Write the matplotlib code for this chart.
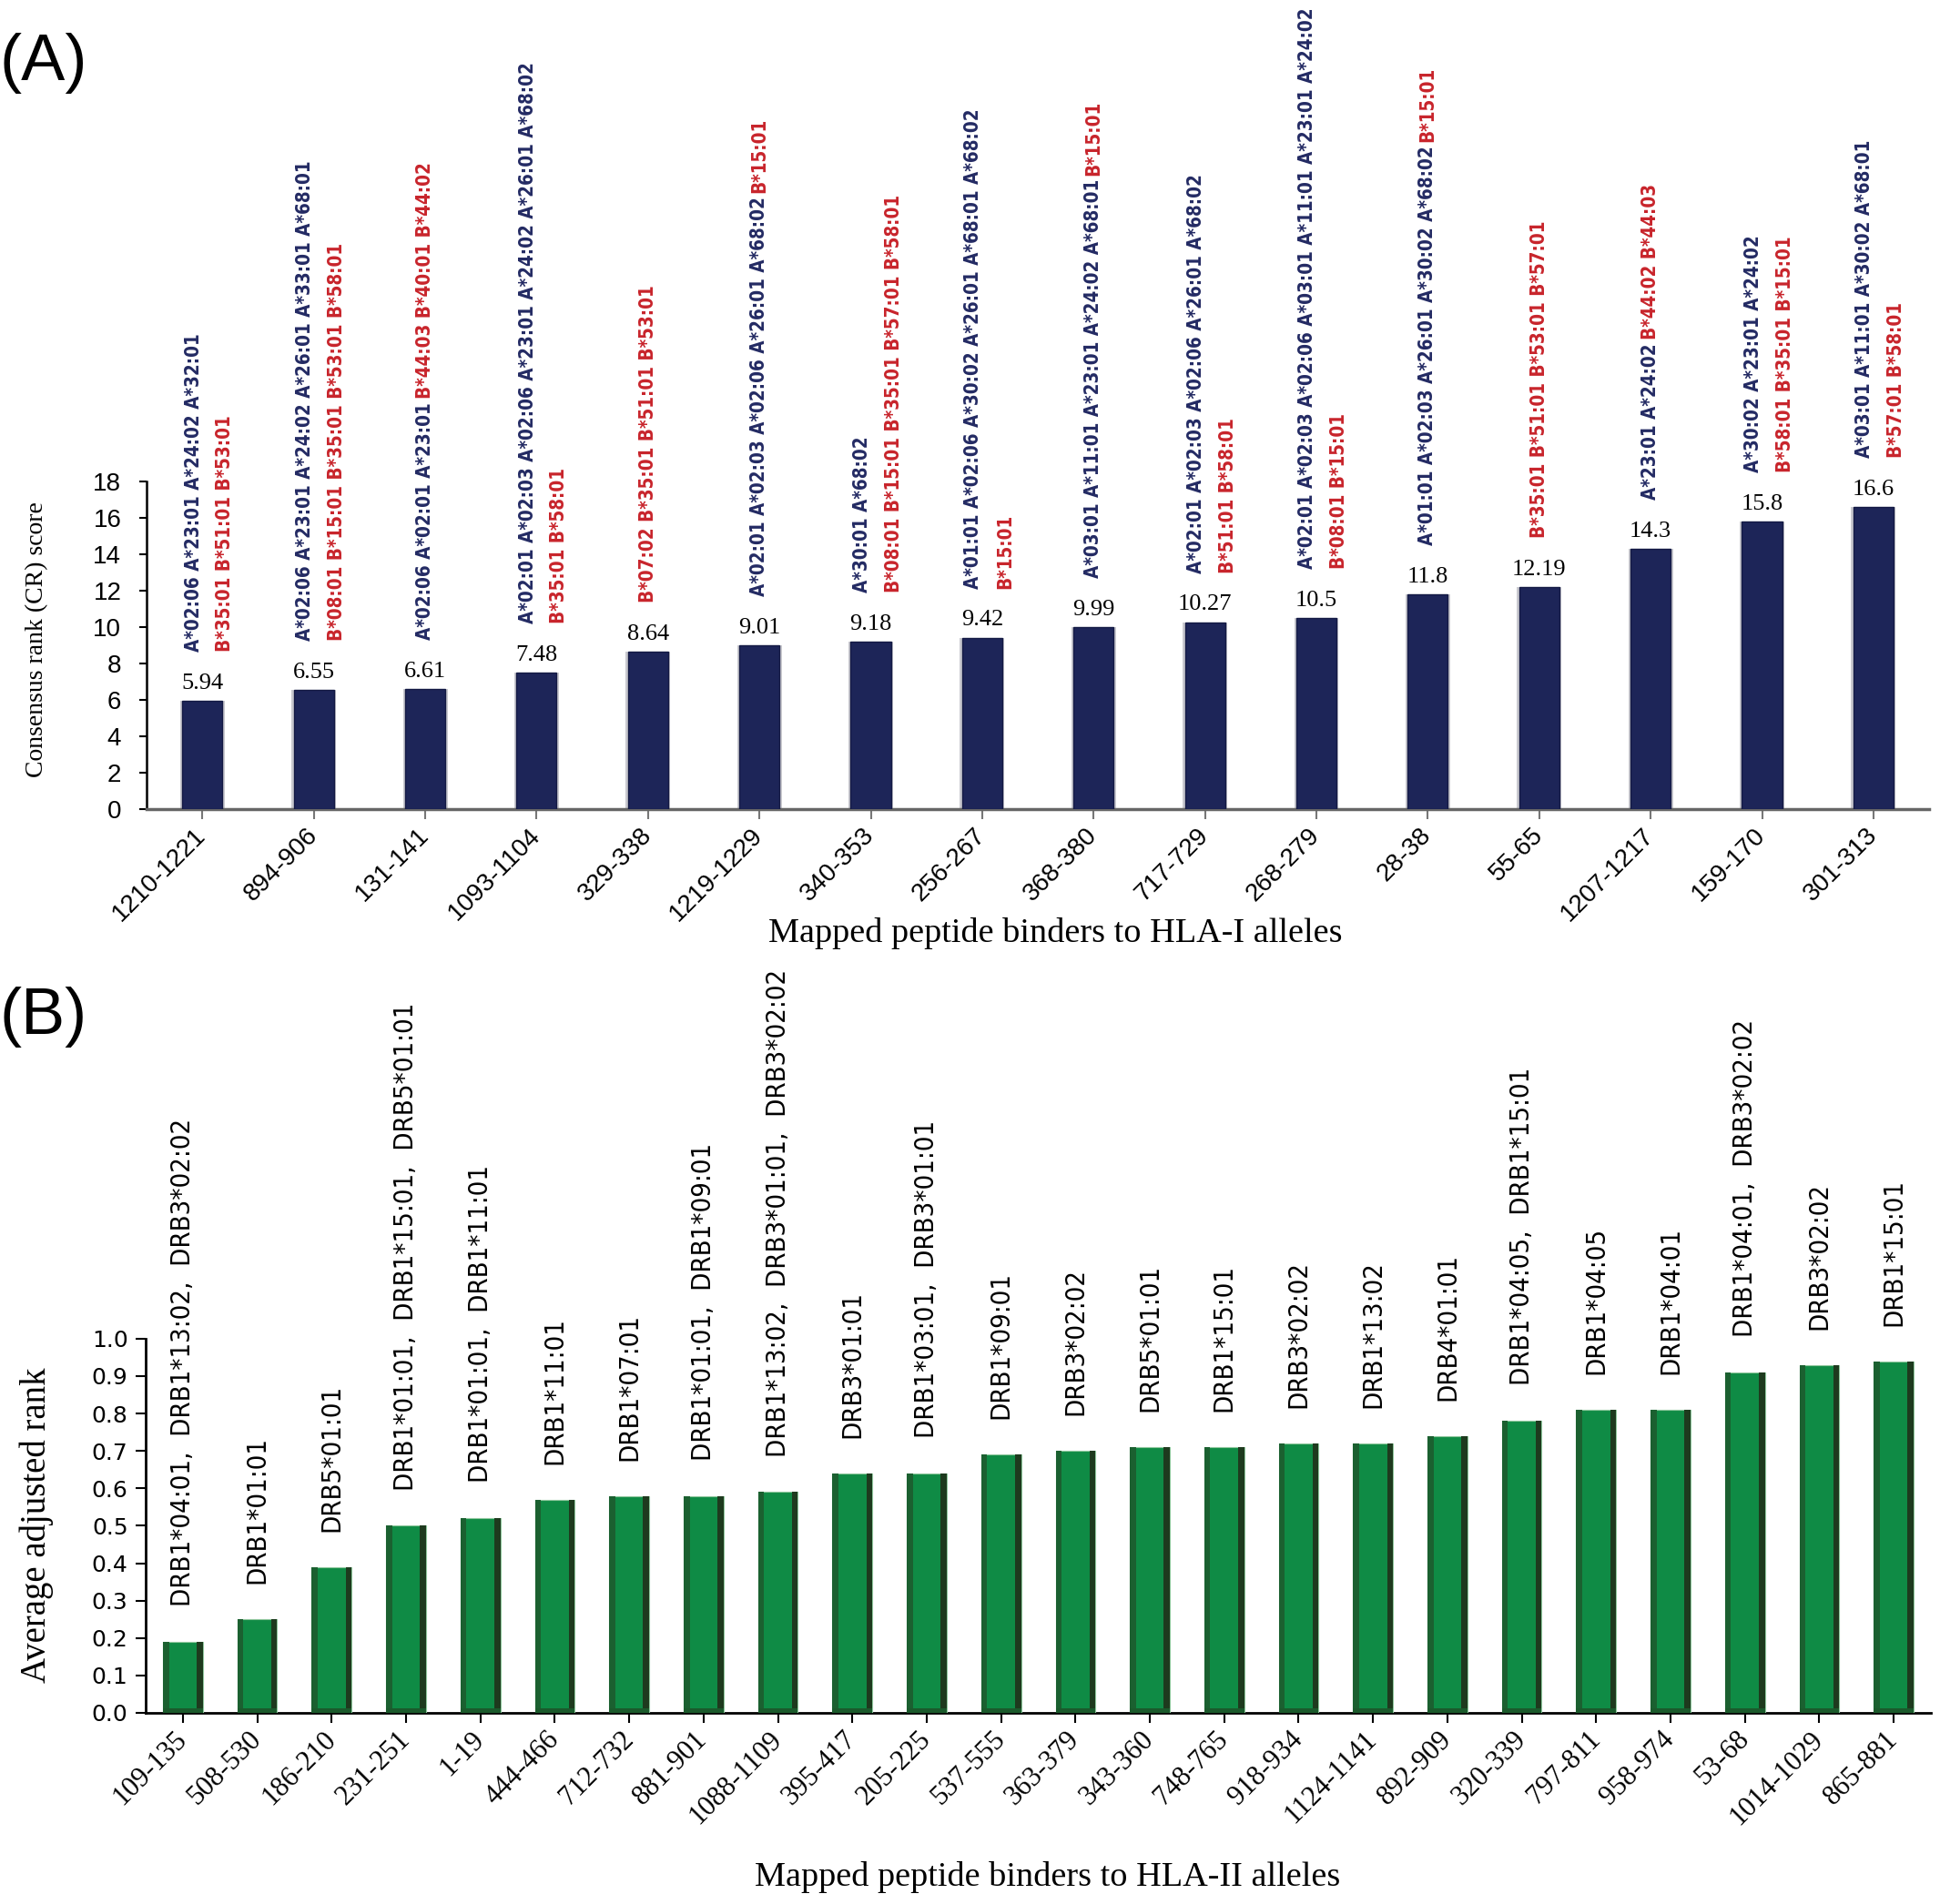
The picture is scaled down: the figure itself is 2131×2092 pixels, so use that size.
import matplotlib
matplotlib.use('Agg')
import matplotlib.pyplot as plt
from matplotlib import font_manager
from matplotlib.font_manager import FontProperties

# ---- data: panel A (HLA-I) ----
a_peptides = ['1210-1221', '894-906', '131-141', '1093-1104', '329-338', '1219-1229',
              '340-353', '256-267', '368-380', '717-729', '268-279', '28-38',
              '55-65', '1207-1217', '159-170', '301-313']
a_scores = [5.94, 6.55, 6.61, 7.48, 8.64, 9.01, 9.18, 9.42, 9.99, 10.27, 10.5, 11.8,
            12.19, 14.3, 15.8, 16.6]
a_score_labels = ['5.94', '6.55', '6.61', '7.48', '8.64', '9.01', '9.18', '9.42', '9.99',
                  '10.27', '10.5', '11.8', '12.19', '14.3', '15.8', '16.6']
a_alleles_A = [
    'A*02:06 A*23:01 A*24:02 A*32:01',
    'A*02:06 A*23:01 A*24:02 A*26:01 A*33:01 A*68:01',
    'A*02:06 A*02:01 A*23:01',
    'A*02:01 A*02:03 A*02:06 A*23:01 A*24:02 A*26:01 A*68:02',
    '',
    'A*02:01 A*02:03 A*02:06 A*26:01 A*68:02',
    'A*30:01 A*68:02',
    'A*01:01 A*02:06 A*30:02 A*26:01 A*68:01 A*68:02',
    'A*03:01 A*11:01 A*23:01 A*24:02 A*68:01',
    'A*02:01 A*02:03 A*02:06 A*26:01 A*68:02',
    'A*02:01 A*02:03 A*02:06 A*03:01 A*11:01 A*23:01 A*24:02',
    'A*01:01 A*02:03 A*26:01 A*30:02 A*68:02',
    '',
    'A*23:01 A*24:02',
    'A*30:02 A*23:01 A*24:02',
    'A*03:01 A*11:01 A*30:02 A*68:01',
]
a_alleles_B = [
    'B*35:01 B*51:01 B*53:01',
    'B*08:01 B*15:01 B*35:01 B*53:01 B*58:01',
    'B*44:03 B*40:01 B*44:02',
    'B*35:01 B*58:01',
    'B*07:02 B*35:01 B*51:01 B*53:01',
    'B*15:01',
    'B*08:01 B*15:01 B*35:01 B*57:01 B*58:01',
    'B*15:01',
    'B*15:01',
    'B*51:01 B*58:01',
    'B*08:01 B*15:01',
    'B*15:01',
    'B*35:01 B*51:01 B*53:01 B*57:01',
    'B*44:02 B*44:03',
    'B*58:01 B*35:01 B*15:01',
    'B*57:01 B*58:01',
]
# B alleles written on the same line as the A alleles
a_same_line = [False, False, True, False, False, True, False, False, True, False, False,
               True, False, True, False, False]

# ---- data: panel B (HLA-II) ----
b_peptides = ['109-135', '508-530', '186-210', '231-251', '1-19', '444-466', '712-732',
              '881-901', '1088-1109', '395-417', '205-225', '537-555', '363-379', '343-360',
              '748-765', '918-934', '1124-1141', '892-909', '320-339', '797-811', '958-974',
              '53-68', '1014-1029', '865-881']
b_ranks = [0.19, 0.25, 0.39, 0.50, 0.52, 0.57, 0.58, 0.58, 0.59, 0.64, 0.64, 0.69, 0.70,
           0.71, 0.71, 0.72, 0.72, 0.74, 0.78, 0.81, 0.81, 0.91, 0.93, 0.94]
b_alleles = [
    'DRB1*04:01,  DRB1*13:02,  DRB3*02:02',
    'DRB1*01:01',
    'DRB5*01:01',
    'DRB1*01:01,  DRB1*15:01,  DRB5*01:01',
    'DRB1*01:01,  DRB1*11:01',
    'DRB1*11:01',
    'DRB1*07:01',
    'DRB1*01:01,  DRB1*09:01',
    'DRB1*13:02,  DRB3*01:01,  DRB3*02:02',
    'DRB3*01:01',
    'DRB1*03:01,  DRB3*01:01',
    'DRB1*09:01',
    'DRB3*02:02',
    'DRB5*01:01',
    'DRB1*15:01',
    'DRB3*02:02',
    'DRB1*13:02',
    'DRB4*01:01',
    'DRB1*04:05,  DRB1*15:01',
    'DRB1*04:05',
    'DRB1*04:01',
    'DRB1*04:01,  DRB3*02:02',
    'DRB3*02:02',
    'DRB1*15:01',
]

# look for a narrow / condensed face for the allele labels
def find_condensed(bold=True):
    best = None
    for f in font_manager.fontManager.ttflist:
        nm = f.name + ' ' + f.fname
        narrowish = ('Narrow' in nm or 'Condensed' in nm or
                     str(f.stretch) in ('condensed', 'semi-condensed', 'extra-condensed'))
        if not narrowish:
            continue
        w = f.weight if isinstance(f.weight, int) else (700 if f.weight == 'bold' else 400)
        if 'Italic' in f.fname or 'Oblique' in f.fname or f.style != 'normal':
            continue
        if bold and w >= 600:
            return f.fname
        if not bold and w < 600:
            return f.fname
        if best is None:
            best = f.fname
    return best

cond_bold = find_condensed(True)
cond_reg = find_condensed(False)
if cond_bold:
    fp_a = FontProperties(fname=cond_bold, size=14.8)
else:
    fp_a = FontProperties(family='DejaVu Sans', weight='bold', size=12.5)
if cond_reg:
    fp_b = FontProperties(fname=cond_reg, size=21)
else:
    fp_b = FontProperties(family='DejaVu Sans', size=18.5)

serif = 'Liberation Serif'
sans = 'Liberation Sans'

NAVY = '#232a63'
RED = '#c8242b'
BAR_A = '#1d2558'

fig = plt.figure(figsize=(21.31, 20.92), dpi=100)

# ================= panel A =================
ax1 = fig.add_axes([0.0756, 0.5750, 0.9188, 0.1721])
xa = list(range(len(a_peptides)))
# soft shadow, then the bar itself
ax1.bar(xa, a_scores, width=0.40, color='#c9c9cf', zorder=2)
ax1.bar(xa, a_scores, width=0.36, color=BAR_A, edgecolor='#141a44', linewidth=1, zorder=3)
ax1.set_xlim(-0.5, len(a_peptides) - 0.5)
ax1.set_ylim(0, 18)
ax1.set_yticks(range(0, 19, 2))
ax1.set_xticks(xa)
ax1.set_xticklabels(a_peptides, rotation=45, ha='right', va='center', rotation_mode='anchor',
                    family=sans, fontsize=20)
ax1.tick_params(axis='y', labelsize=20, length=6, width=1.5, pad=14)
ax1.tick_params(axis='x', length=8, width=1.5, color='#777777', pad=10)
for t in ax1.get_yticklabels():
    t.set_family(sans)
ax1.spines['top'].set_visible(False)
ax1.spines['right'].set_visible(False)
ax1.spines['left'].set_linewidth(1.8)
ax1.spines['bottom'].set_linewidth(2.5)
ax1.spines['bottom'].set_color('#666666')

for i, v in enumerate(a_scores):
    ax1.annotate(a_score_labels[i], (i, v), xytext=(0, 6), textcoords='offset points',
                 ha='center', va='bottom', family=serif, fontsize=19)
    na, nb = a_alleles_A[i], a_alleles_B[i]
    kw = dict(textcoords='offset points', rotation=90, rotation_mode='anchor',
              ha='left', va='center', fontproperties=fp_a)
    if na and nb and not a_same_line[i]:
        ax1.annotate(na, (i, v), xytext=(-7, 39), color=NAVY, **kw)
        ax1.annotate(nb, (i, v), xytext=(18, 39), color=RED, **kw)
    elif na and nb:
        t = ax1.annotate(na, (i, v), xytext=(0, 39), color=NAVY, **kw)
        ax1.annotate(nb, xy=(0.5, 1.0), xycoords=t, xytext=(0, 3), color=RED, **kw)
    elif nb:
        ax1.annotate(nb, (i, v), xytext=(0, 39), color=RED, **kw)
    else:
        ax1.annotate(na, (i, v), xytext=(0, 39), color=NAVY, **kw)

fig.text(0.019, 0.664, 'Consensus rank (CR) score', rotation=90, ha='center', va='center',
         family=serif, fontsize=20)
fig.text(0.544, 0.510, 'Mapped peptide binders to HLA-I alleles', ha='center', va='center',
         family=serif, fontsize=27.5)
fig.text(0.0, 0.967, '(A)', ha='left', va='center', family=sans, fontsize=52)

# ================= panel B =================
ax2 = fig.add_axes([0.0751, 0.1004, 0.9202, 0.1965])
xb = list(range(len(b_peptides)))
bw = 0.535
ax2.bar(xb, b_ranks, width=bw, color='#0f8b45', edgecolor='#8fc79d', linewidth=0.8, zorder=3)
# bevel strips (left lighter, right darker, thin bottom)
ax2.bar([x - bw / 2 + 0.04 for x in xb], b_ranks, width=0.08, color='#1b6030', zorder=4)
ax2.bar([x + bw / 2 - 0.04 for x in xb], b_ranks, width=0.08, color='#1e3a1e', zorder=4)
ax2.bar(xb, [0.012] * len(xb), width=bw, color='#1b5a2c', zorder=4)
ax2.set_xlim(-0.5, len(b_peptides) - 0.5)
ax2.set_ylim(0, 1.0)
ax2.set_yticks([k / 10 for k in range(11)])
ax2.set_yticklabels(['%.1f' % (k / 10) for k in range(11)])
ax2.set_xticks(xb)
ax2.set_xticklabels(b_peptides, rotation=45, ha='right', va='center', rotation_mode='anchor',
                    family=serif, fontsize=22)
ax2.tick_params(axis='y', labelsize=18, length=8, width=1.5, pad=6)
ax2.tick_params(axis='x', length=8, width=1.5, pad=10)
ax2.spines['top'].set_visible(False)
ax2.spines['right'].set_visible(False)
ax2.spines['left'].set_linewidth(2)
ax2.spines['bottom'].set_linewidth(2)

for i, v in enumerate(b_ranks):
    ax2.annotate(b_alleles[i], (i, v), xytext=(0, 28), textcoords='offset points',
                 rotation=90, rotation_mode='anchor', ha='left', va='center',
                 fontproperties=fp_b)

fig.text(0.019, 0.199, 'Average adjusted rank', rotation=90, ha='center', va='center',
         family=serif, fontsize=28)
fig.text(0.540, 0.014, 'Mapped peptide binders to HLA-II alleles', ha='center', va='center',
         family=serif, fontsize=27.5)
fig.text(0.0, 0.466, '(B)', ha='left', va='center', family=sans, fontsize=52)

fig.savefig('out.png', dpi=100, facecolor='white')
